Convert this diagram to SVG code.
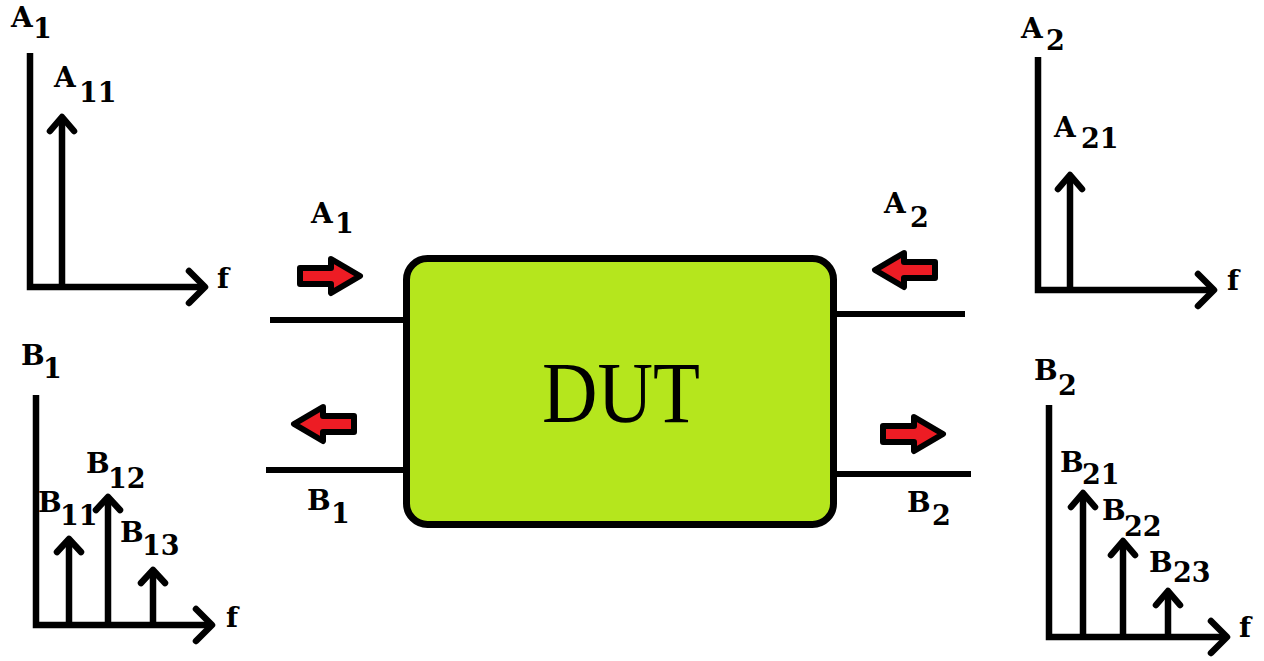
<svg xmlns="http://www.w3.org/2000/svg" xmlns:xlink="http://www.w3.org/1999/xlink" width="1264" height="661" viewBox="0 0 1264 661">
<style>
.ax{fill:none;stroke:#000;stroke-width:6.5;stroke-linejoin:miter;stroke-linecap:butt}
.hd{fill:none;stroke:#000;stroke-width:6.5;stroke-linecap:round;stroke-linejoin:round}
.lbl{font-family:"DejaVu Serif","Liberation Serif",serif;font-weight:bold;font-size:28px;fill:#000}
.lbl tspan{font-size:27px}
.wire{stroke:#000;stroke-width:6}
.ra{fill:#ED1C24;stroke:#000;stroke-width:6;stroke-linejoin:round}
</style>
<defs>
<path id="blockArrow" d="M0,-8 H31 V-17 L60,0 L31,17 V8 H0 Z"/>
</defs>
<rect width="1264" height="661" fill="#fff"/>

<g id="plot-a1">
<polyline class="ax" points="30,53 30,287 205,287"/>
<polyline class="hd" points="189,271 205,287 189,303"/>
<line class="ax" x1="62" y1="287" x2="62" y2="118"/>
<polyline class="hd" points="50,131 62,117 74,131"/>
<text class="lbl" x="11" y="27">A<tspan x="33" y="38">1</tspan></text>
<text class="lbl" x="54" y="87">A<tspan x="79" y="102">11</tspan></text>
<text class="lbl" x="217" y="288">f</text>
</g>

<g id="plot-b1">
<polyline class="ax" points="36,395 36,625 212,625"/>
<polyline class="hd" points="196,609 212,625 196,641"/>
<line class="ax" x1="69" y1="625" x2="69" y2="540"/>
<polyline class="hd" points="57,552 69,539 81,552"/>
<line class="ax" x1="108" y1="625" x2="108" y2="498"/>
<polyline class="hd" points="96,510 108,497 120,510"/>
<line class="ax" x1="153" y1="625" x2="153" y2="571"/>
<polyline class="hd" points="141,583 153,570 165,583"/>
<text class="lbl" x="21" y="365">B<tspan x="43" y="378">1</tspan></text>
<text class="lbl" x="38" y="512">B<tspan x="60" y="525">11</tspan></text>
<text class="lbl" x="86" y="473">B<tspan x="108" y="488">12</tspan></text>
<text class="lbl" x="120" y="542">B<tspan x="142" y="555">13</tspan></text>
<text class="lbl" x="226" y="627">f</text>
</g>

<g id="plot-a2">
<polyline class="ax" points="1038,57 1038,290 1214,290"/>
<polyline class="hd" points="1198,274 1214,290 1198,306"/>
<line class="ax" x1="1070" y1="290" x2="1070" y2="176"/>
<polyline class="hd" points="1058,189 1070,175 1082,189"/>
<text class="lbl" x="1021" y="38">A<tspan x="1046" y="50">2</tspan></text>
<text class="lbl" x="1054" y="137">A<tspan x="1081" y="148">21</tspan></text>
<text class="lbl" x="1227" y="290">f</text>
</g>

<g id="plot-b2">
<polyline class="ax" points="1049,405 1049,637 1227,637"/>
<polyline class="hd" points="1211,621 1227,637 1211,653"/>
<line class="ax" x1="1083" y1="637" x2="1083" y2="494"/>
<polyline class="hd" points="1071,507 1083,493 1095,507"/>
<line class="ax" x1="1123" y1="637" x2="1123" y2="542"/>
<polyline class="hd" points="1111,555 1123,541 1135,555"/>
<line class="ax" x1="1168" y1="637" x2="1168" y2="592"/>
<polyline class="hd" points="1156,605 1168,591 1180,605"/>
<text class="lbl" x="1034" y="380">B<tspan x="1058" y="395">2</tspan></text>
<text class="lbl" x="1060" y="472">B<tspan x="1082" y="484">21</tspan></text>
<text class="lbl" x="1102" y="520">B<tspan x="1124" y="536">22</tspan></text>
<text class="lbl" x="1149" y="572">B<tspan x="1173" y="582">23</tspan></text>
<text class="lbl" x="1239" y="637">f</text>
</g>

<g id="dut">
<rect x="406.5" y="258.5" width="427" height="266" rx="21" fill="#B5E61D" stroke="#000" stroke-width="7"/>
<text x="621" y="422" text-anchor="middle" font-family="'Liberation Serif',serif" font-size="86" textLength="158" lengthAdjust="spacingAndGlyphs" fill="#000">DUT</text>
</g>

<g id="connectors">
<line class="wire" x1="270" y1="320" x2="403" y2="320"/>
<line class="wire" x1="266" y1="470" x2="403" y2="470"/>
<line class="wire" x1="837" y1="314" x2="965" y2="314"/>
<line class="wire" x1="837" y1="474" x2="971" y2="474"/>
<use xlink:href="#blockArrow" class="ra" transform="translate(300,276)"/>
<use xlink:href="#blockArrow" class="ra" transform="translate(354,424) scale(-1,1)"/>
<use xlink:href="#blockArrow" class="ra" transform="translate(935,270) scale(-1,1)"/>
<use xlink:href="#blockArrow" class="ra" transform="translate(883,434)"/>
</g>

<g id="port-labels">
<text class="lbl" x="311" y="223">A<tspan x="335" y="233">1</tspan></text>
<text class="lbl" x="307" y="510">B<tspan x="331" y="523">1</tspan></text>
<text class="lbl" x="884" y="213">A<tspan x="910" y="227">2</tspan></text>
<text class="lbl" x="907" y="512">B<tspan x="932" y="525">2</tspan></text>
</g>
</svg>
